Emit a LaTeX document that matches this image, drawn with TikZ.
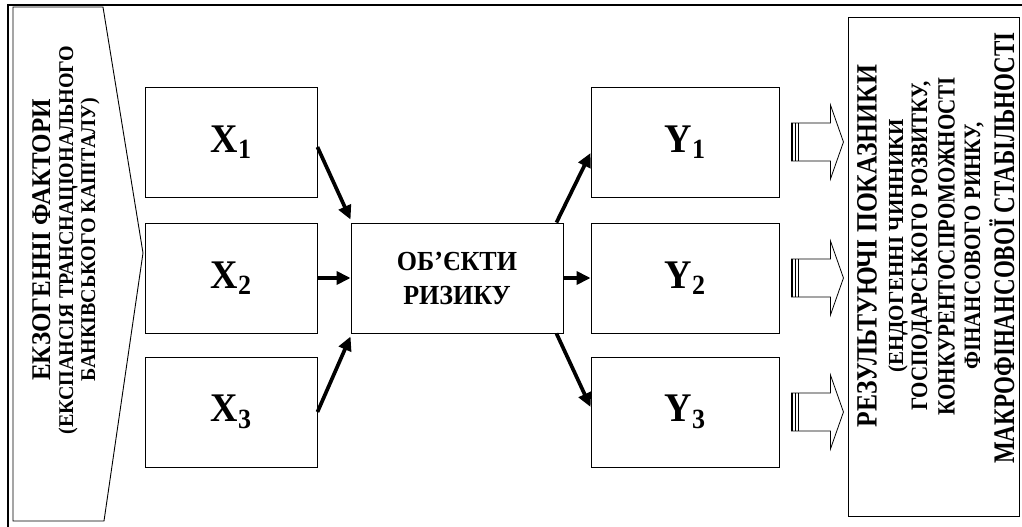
\documentclass[tikz,border=0pt]{standalone}
\usepackage{fontspec}
\setmainfont{Liberation Serif}
\usetikzlibrary{arrows.meta,calc}
\tikzset{
  thinline/.style={line width=0.9pt},
  xbox/.style={draw,thinline,minimum width=172pt,minimum height=110pt,inner sep=0pt},
  ybox/.style={draw,thinline,minimum width=188pt,minimum height=110pt,inner sep=0pt},
  conn/.style={line width=3.7pt,-{Triangle[length=14pt,width=13pt]}},
  lbl/.style={font=\bfseries},
  vline/.style={rotate=90,anchor=base,inner sep=0pt,font=\bfseries},
  blockarrow/.pic={
    \draw[line width=0.8pt] (0,-19) -- (39,-19) -- (39,-37) -- (52,0) -- (39,37) -- (39,19) -- (0,19) -- cycle;
    \draw[line width=2pt] (1,-19) -- (1,19);
    \draw[line width=0.6pt] (4,-19) -- (4,19) (7,-19) -- (7,19);
  }
}
\newcommand{\vtext}[3]{\scalebox{1}[#2]{\fontsize{#1}{#1}\selectfont #3}}
\newcommand{\xlab}[2]{\scalebox{1}[1.07]{\fontsize{38}{40}\selectfont #1\raisebox{-6pt}{\fontsize{26}{28}\selectfont #2}}}
\begin{document}
\begin{tikzpicture}[x=1pt,y=-1pt]
\useasboundingbox (0,0) rectangle (1022,527);
% outer frame
\draw[line width=2.5pt] (8,527) -- (8,5) -- (1022,5);
% left pentagon
\draw[thinline] (13,7) -- (103,7) -- (143,253) -- (104,521) -- (13,521) -- cycle;
\node[vline] (lt1) at (50,240) {\vtext{25}{1.08}{ЕКЗОГЕННІ ФАКТОРИ}};
\node[vline] (lt2) at (73,240) {\vtext{20}{1.05}{(ЕКСПАНСІЯ ТРАНСНАЦІОНАЛЬНОГО}};
\node[vline] (lt3) at (95,240) {\vtext{20}{1.05}{БАНКІВСЬКОГО КАПІТАЛУ)}};
% X boxes
\node[xbox,lbl] (x1) at (231,142) {\xlab{X}{1}};
\node[xbox,lbl] (x2) at (231,278) {\xlab{X}{2}};
\node[xbox,lbl] (x3) at (231,412) {\xlab{X}{3}};
% centre
\node[draw,thinline,minimum width=212pt,minimum height=110pt,align=center,
      font=\bfseries\fontsize{26}{34}\selectfont] (c) at (457,278)
      {\scalebox{1}[1.06]{ОБ’ЄКТИ}\\\scalebox{1}[1.06]{РИЗИКУ}};
% Y boxes
\node[ybox,lbl] (y1) at (685,142) {\xlab{Y}{1}};
\node[ybox,lbl] (y2) at (685,278) {\xlab{Y}{2}};
\node[ybox,lbl] (y3) at (685,412) {\xlab{Y}{3}};
% right box
\node[draw,thinline,minimum width=171pt,minimum height=499pt] (r) at (933.5,266.5) {};
\node[vline] (rt1) at (876.5,246) {\vtext{25.6}{1.15}{РЕЗУЛЬТУЮЧІ ПОКАЗНИКИ}};
\node[vline] (rt2) at (903,246) {\vtext{21}{1.02}{(ЕНДОГЕННІ ЧИННИКИ}};
\node[vline] (rt3) at (927,246) {\vtext{21}{1.12}{ГОСПОДАРСЬКОГО РОЗВИТКУ,}};
\node[vline] (rt4) at (954.5,246) {\vtext{21}{1.18}{КОНКУРЕНТОСПРОМОЖНОСТІ}};
\node[vline] (rt5) at (980,246) {\vtext{21}{1.12}{ФІНАНСОВОГО РИНКУ,}};
\node[vline] (rt6) at (1014,248) {\vtext{23}{1.3}{МАКРОФІНАНСОВОЇ СТАБІЛЬНОСТІ}};
% connectors
\draw[conn] ([yshift=-5pt]x1.east) -- ([yshift=3pt]c.north west);
\draw[conn] (x2.east) -- (c.west);
\draw[conn] (x3.east) -- ([yshift=-3pt]c.south west);
\draw[conn] ([xshift=-7pt]c.north east) -- ([yshift=-11pt]y1.west);
\draw[conn] (c.east) -- (y2.west);
\draw[conn] ([xshift=-7pt]c.south east) -- ([yshift=5pt]y3.west);
% block arrows
\pic at ($(y1.east)+(12,0)$) {blockarrow};
\pic at ($(y2.east)+(12,0)$) {blockarrow};
\pic at ($(y3.east)+(12,0)$) {blockarrow};
\end{tikzpicture}
\end{document}
